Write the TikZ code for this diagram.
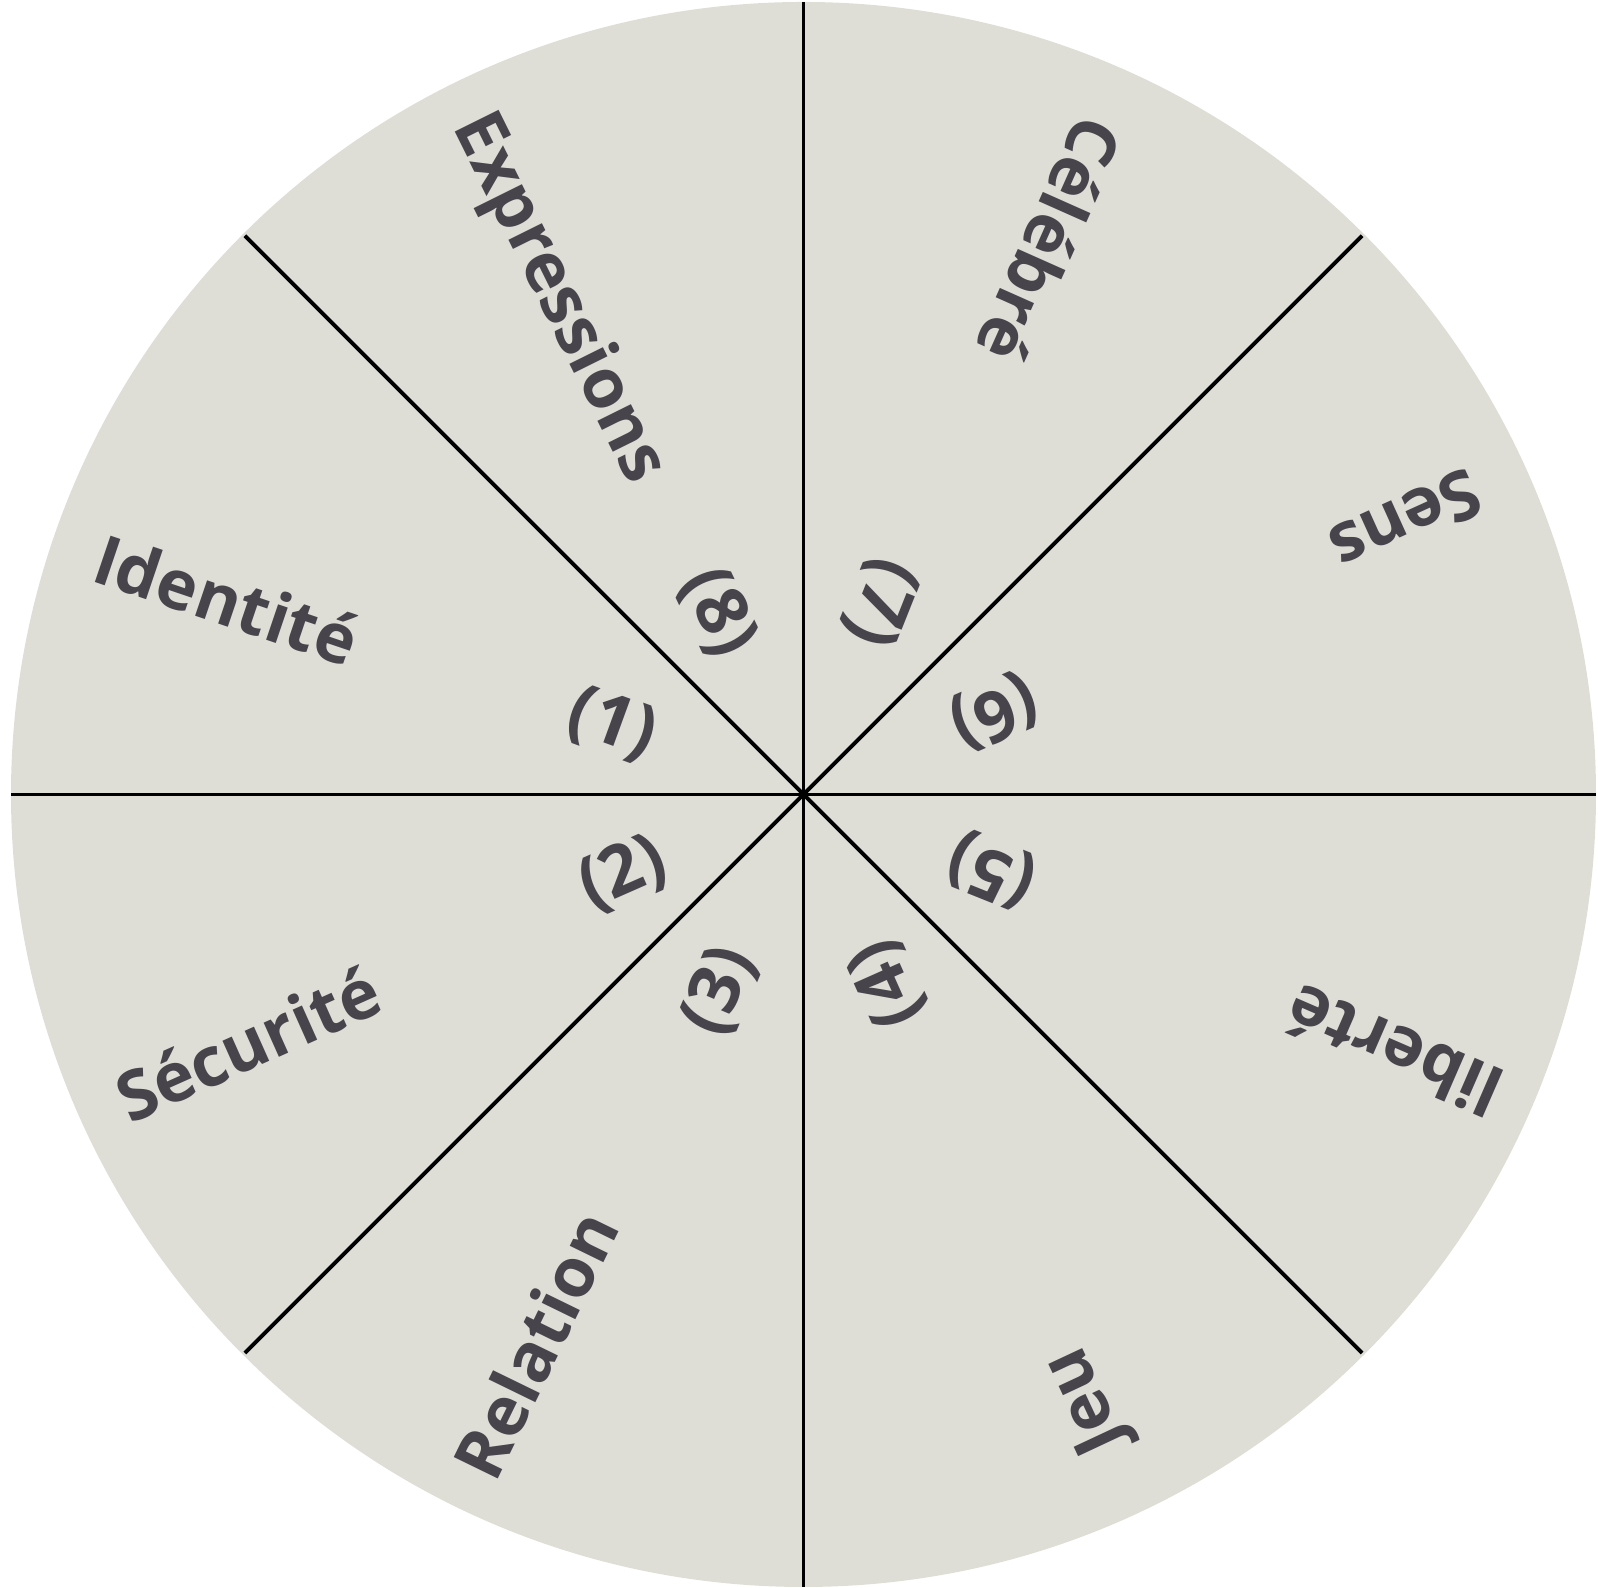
\documentclass[tikz,border=0pt]{standalone}
\usepackage{fontspec}
\setmainfont{Open Sans}
\usetikzlibrary{calc}
\definecolor{wheelfill}{RGB}{222, 222, 214}
\definecolor{inkgrey}{RGB}{71, 68, 76}

\begin{document}
\begin{tikzpicture}[
    wordlabel/.style={text=inkgrey, font=\bfseries\fontsize{19.5}{23}\selectfont, inner sep=0pt},
    numlabel/.style={text=inkgrey, font=\bfseries\fontsize{20}{24}\selectfont, inner sep=0pt},
    divider/.style={draw=black, line width=1.1pt}]
    \useasboundingbox (0, 0) rectangle (15.98, 15.88);
    \coordinate (O) at (8.035, 7.935);

    % Wheel
    \fill[wheelfill] (O) circle (7.925);

    % Dividers
    \draw[divider] (O) -- ($(O)+(90:7.925)$);
    \draw[divider] (O) -- ($(O)+(270:7.925)$);
    \draw[divider] (O) -- ($(O)+(0:7.925)$);
    \draw[divider] (O) -- ($(O)+(180:7.925)$);
    \draw[divider] (O) -- ($(O)+(45:7.9)$);
    \draw[divider] (O) -- ($(O)+(135:7.9)$);
    \draw[divider] (O) -- ($(O)+(225:7.9)$);
    \draw[divider] (O) -- ($(O)+(315:7.9)$);

    % Needs
    \node[wordlabel, rotate=-18.7] (identite) at ($(O)+(161.3:6.09)$) {Identité};
    \node[wordlabel, rotate=24.1] (securite) at ($(O)+(204.1:6.09)$) {Sécurité};
    \node[wordlabel, rotate=64] (relation) at ($(O)+(244:6.12)$) {Relation};
    \node[wordlabel, rotate=115.1] (jeu) at ($(O)+(295.1:6.69)$) {Jeu};
    \node[wordlabel, rotate=156.5] (liberte) at ($(O)+(336.5:6.44)$) {liberté};
    \node[wordlabel, rotate=-155.6] (sens) at ($(O)+(24.4:6.62)$) {Sens};
    \node[wordlabel, rotate=-114] (celebre) at ($(O)+(66:6.07)$) {Célébré};
    \node[wordlabel, rotate=-63.6] (expressions) at ($(O)+(116.4:5.53)$) {Expressions};

    % Numbers
    \node[numlabel, rotate=-20] (n1) at ($(O)+(160:2.04)$) {(1)};
    \node[numlabel, rotate=23.8] (n2) at ($(O)+(203.8:1.97)$) {(2)};
    \node[numlabel, rotate=67] (n3) at ($(O)+(247:2.14)$) {(3)};
    \node[numlabel, rotate=114] (n4) at ($(O)+(294:2.07)$) {(4)};
    \node[numlabel, rotate=158.2] (n5) at ($(O)+(338.2:2.03)$) {(5)};
    \node[numlabel, rotate=-156.6] (n6) at ($(O)+(23.4:2.08)$) {(6)};
    \node[numlabel, rotate=-111.7] (n7) at ($(O)+(68.3:2.07)$) {(7)};
    \node[numlabel, rotate=-64.7] (n8) at ($(O)+(115.3:2.01)$) {(8)};
\end{tikzpicture}
\end{document}
